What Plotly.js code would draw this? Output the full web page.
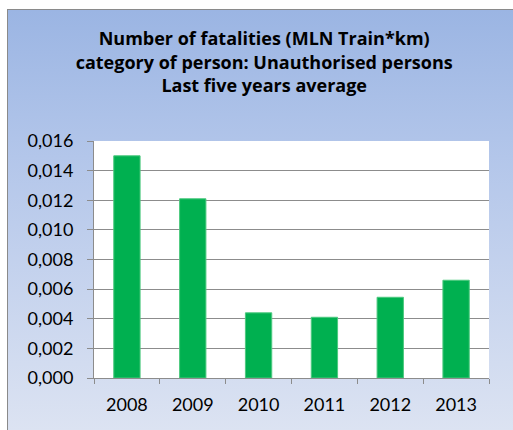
<!DOCTYPE html>
<html>
<head>
<meta charset="utf-8">
<script src="https://cdn.plot.ly/plotly-3.0.1.min.js"></script>
<style>
  html, body { margin: 0; padding: 0; background: #ffffff; width: 513px; height: 430px; overflow: hidden; }
  #frame { position: absolute; left: 7px; top: 9px; width: 506px; height: 421px;
    box-sizing: border-box; border-top: 1px solid #8a8a8a; border-left: 1px solid #8a8a8a;
    background: linear-gradient(to bottom, #9bb5e3 0%, #b3c6ea 35%, #dce3f2 100%); }
  #chart { position: absolute; left: 0; top: 0; width: 513px; height: 430px; }
</style>
</head>
<body>
<div id="frame"></div>
<div id="chart"></div>
<script>
const years = ['2008', '2009', '2010', '2011', '2012', '2013'];
const fatalities = [0.0150, 0.0121, 0.0044, 0.0041, 0.00545, 0.0066];
const titleLines = ['Number of fatalities (MLN Train*km)', 'category of person: Unauthorised persons', 'Last five years average'];

const trace = {
  type: 'bar',
  x: years,
  y: fatalities,
  marker: { color: '#00b050', line: { color: '#4cc97f', width: 1 } },
  hoverinfo: 'x+y'
};

const layout = {
  width: 513, height: 430,
  margin: { l: 94, r: 24, t: 141, b: 52, pad: 0 },
  paper_bgcolor: 'rgba(0,0,0,0)',
  plot_bgcolor: '#ffffff',
  separators: ',.',
  showlegend: false,
  bargap: 0.6,
  font: { family: 'Lato, "Open Sans", sans-serif', color: '#000000', size: 18 },
  title: {
    text: titleLines.map(s => '<b>' + s + '</b>').join('<br>'),
    font: { family: '"Open Sans", Lato, sans-serif', size: 18, color: '#000000' },
    x: 0.515, xref: 'container', xanchor: 'center',
    y: 0.895, yref: 'container', yanchor: 'top'
  },
  xaxis: {
    type: 'category',
    showgrid: false,
    showline: true, linecolor: '#8c8c8c', linewidth: 1,
    ticks: 'outside', tickson: 'boundaries', ticklen: 5, tickcolor: '#8c8c8c',
    ticklabelstandoff: 10,
    tickfont: { size: 18, color: '#000000' },
    fixedrange: true
  },
  yaxis: {
    range: [0, 0.016],
    dtick: 0.002, tick0: 0,
    tickformat: '.3f',
    showgrid: true, gridcolor: '#8c8c8c', gridwidth: 1,
    showline: true, linecolor: '#8c8c8c', linewidth: 1,
    ticks: 'outside', ticklen: 6, tickcolor: '#8c8c8c',
    ticklabelstandoff: 10,
    tickfont: { size: 18, color: '#000000' },
    zeroline: false,
    fixedrange: true
  }
};

Plotly.newPlot('chart', [trace], layout, { displayModeBar: false, staticPlot: true });
</script>
</body>
</html>
